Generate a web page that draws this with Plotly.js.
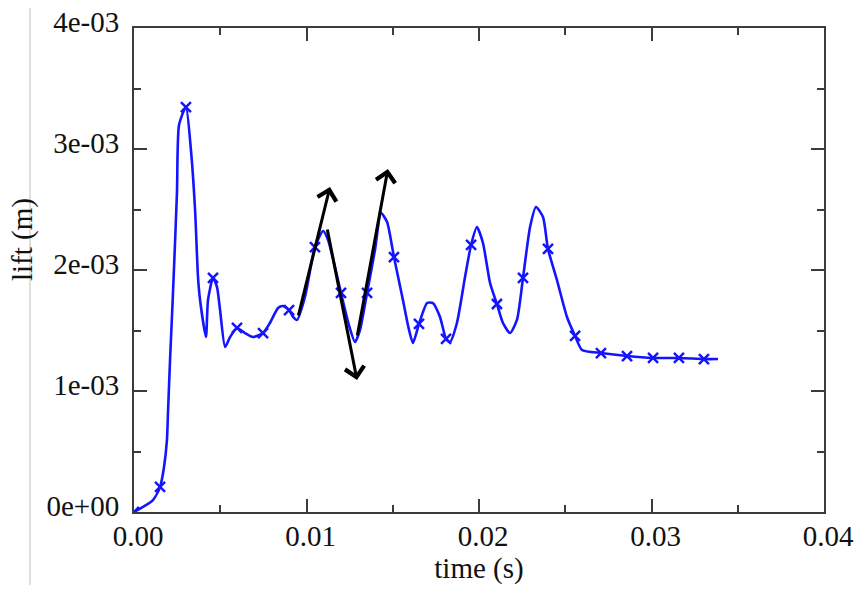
<!DOCTYPE html>
<html>
<head>
<meta charset="utf-8">
<script src="https://cdn.plot.ly/plotly-3.0.1.min.js"></script>
<style>
html,body{margin:0;padding:0;background:#fff;}
#chart{width:864px;height:593px;}
</style>
</head>
<body>
<div id="chart"></div>
<script>
// Dense curve (time in s, lift in m)
var curveTime = [0, 0.00110, 0.00151, 0.00174, 0.00191, 0.00197, 0.00209, 0.00226, 0.00249, 0.00261,
  0.00301, 0.00330, 0.00354, 0.00371, 0.00383, 0.00417, 0.00429, 0.00458, 0.00481, 0.00499,
  0.00528, 0.00557, 0.00597, 0.00643, 0.00690, 0.00748, 0.00788, 0.00835, 0.00864, 0.00899,
  0.00922, 0.00945, 0.00991, 0.01049, 0.01096, 0.01125, 0.01200, 0.01246, 0.01281, 0.01310,
  0.01351, 0.01397, 0.01432, 0.01467, 0.01507, 0.01559, 0.01588, 0.01617, 0.01652, 0.01699,
  0.01733, 0.01774, 0.01809, 0.01832, 0.01872, 0.01919, 0.01954, 0.01988, 0.02023, 0.02064,
  0.02104, 0.02139, 0.02180, 0.02220, 0.02255, 0.02296, 0.02330, 0.02371, 0.02400, 0.02452,
  0.02510, 0.02557, 0.02597, 0.02707, 0.02858, 0.03009, 0.03159, 0.03304, 0.03386];
var curveLift = [0, 0.000099, 0.000207, 0.000372, 0.000595, 0.000818, 0.001256, 0.001810, 0.002636, 0.003198,
  0.003347, 0.002992, 0.002496, 0.001942, 0.001752, 0.001446, 0.001752, 0.001934, 0.001860, 0.001669,
  0.001364, 0.001446, 0.001521, 0.001479, 0.001446, 0.001479, 0.001562, 0.001686, 0.001702, 0.001669,
  0.001612, 0.001587, 0.001777, 0.002190, 0.002322, 0.002248, 0.001810, 0.001545, 0.001405, 0.001504,
  0.001810, 0.002165, 0.002471, 0.002397, 0.002107, 0.001752, 0.001545, 0.001397, 0.001554, 0.001727,
  0.001727, 0.001612, 0.001430, 0.001405, 0.001562, 0.001942, 0.002207, 0.002355, 0.002223, 0.001893,
  0.001719, 0.001562, 0.001479, 0.001587, 0.001934, 0.002355, 0.002521, 0.002438, 0.002174, 0.001917,
  0.001612, 0.001455, 0.001339, 0.001314, 0.001289, 0.001273, 0.001273, 0.001264, 0.001264];

// Marker samples
var markerTime = [0, 0.00151, 0.00301, 0.00458, 0.00597, 0.00748, 0.00899, 0.01049, 0.01200, 0.01351,
  0.01507, 0.01652, 0.01809, 0.01954, 0.02104, 0.02255, 0.02400, 0.02557, 0.02707, 0.02858,
  0.03009, 0.03159, 0.03304];
var markerLift = [0, 0.000207, 0.003347, 0.001934, 0.001521, 0.001479, 0.001669, 0.002190, 0.001810, 0.001810,
  0.002107, 0.001554, 0.001430, 0.002207, 0.001719, 0.001934, 0.002174, 0.001455, 0.001314, 0.001289,
  0.001273, 0.001273, 0.001264];

// Arrows drawn over the curve (start -> tip)
var arrowStartTime = [0.00951, 0.01119, 0.01293];
var arrowStartLift = [0.001612, 0.002347, 0.001446];
var arrowTipTime = [0.01136, 0.01293, 0.01472];
var arrowTipLift = [0.002686, 0.001091, 0.002835];

// Ticks
var xTickVals = [0, 0.01, 0.02, 0.03, 0.04];
var xTickText = ["0.00", "0.01", "0.02", "0.03", "0.04"];
var yTickVals = [0, 0.001, 0.002, 0.003, 0.004];
var yTickText = ["0e+00", "1e-03", "2e-03", "3e-03", "4e-03"];

var blue = "#1414ff";
var frame = "#3c3c3c";
var fontFam = "Liberation Serif, Times New Roman, serif";
var fontSize = 29;

var traces = [
  {x: curveTime, y: curveLift, mode: "lines", type: "scatter",
   line: {color: blue, width: 2.6, shape: "spline", smoothing: 0.6}, hoverinfo: "skip", showlegend: false},
  {x: markerTime, y: markerLift, mode: "markers", type: "scatter",
   marker: {symbol: "x-thin", size: 10, color: blue, line: {color: blue, width: 2.5}}, showlegend: false}
];

var annotations = [];
for (var i = 0; i < arrowTipTime.length; i++) {
  annotations.push({
    x: arrowTipTime[i], y: arrowTipLift[i], xref: "x", yref: "y",
    ax: arrowStartTime[i], ay: arrowStartLift[i], axref: "x", ayref: "y",
    text: "", showarrow: true, arrowhead: 4, arrowsize: 1.25, arrowwidth: 3,
    arrowcolor: "#000", standoff: 0, startstandoff: 0
  });
}
annotations.push({
  text: "lift (m)", xref: "paper", yref: "paper",
  x: (22 - 134) / 690, y: (512 - 240) / 484, xanchor: "center", yanchor: "middle",
  textangle: -90, showarrow: false, font: {family: fontFam, size: fontSize, color: "#111"}
});

var axisCommon = {
  showline: true, linecolor: frame, linewidth: 2, mirror: "ticks",
  ticks: "inside", ticklen: 13, tickwidth: 2, tickcolor: frame,
  showgrid: false, zeroline: false, tickmode: "array",
  tickfont: {family: fontFam, size: fontSize, color: "#111"}
};

var layout = {
  width: 864, height: 593,
  margin: {l: 134, r: 40, t: 28, b: 81, pad: 0},
  paper_bgcolor: "#fff", plot_bgcolor: "#fff",
  showlegend: false,
  xaxis: Object.assign({}, axisCommon, {
    range: [0, 0.04], tickvals: xTickVals, ticktext: xTickText,
    minor: {ticks: "inside", ticklen: 7, tickwidth: 2, tickcolor: frame, dtick: 0.005, tick0: 0},
    ticklabelshift: 4, ticklabelstandoff: -3,
    title: {text: "time (s)", font: {family: fontFam, size: fontSize, color: "#111"}, standoff: 7}
  }),
  yaxis: Object.assign({}, axisCommon, {
    range: [0, 0.004], tickvals: yTickVals, ticktext: yTickText,
    minor: {ticks: "inside", ticklen: 7, tickwidth: 2, tickcolor: frame, dtick: 0.0005, tick0: 0},
    ticklabelshift: -6, ticklabelstandoff: 7
  }),
  annotations: annotations,
  shapes: [{type: "line", xref: "paper", yref: "paper",
    x0: (30 - 134) / 690, x1: (30 - 134) / 690, y0: (512 - 585) / 484, y1: (512 - 8) / 484,
    line: {color: "#d4d4d4", width: 1.5}}]
};

Plotly.newPlot("chart", traces, layout, {displayModeBar: false, staticPlot: true});
</script>
</body>
</html>
